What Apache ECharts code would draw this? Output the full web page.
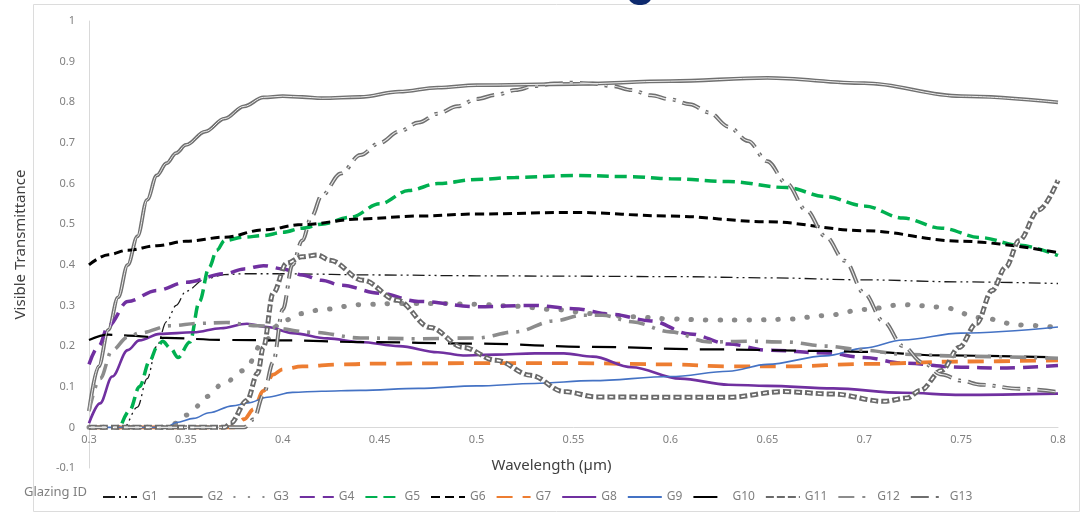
<!DOCTYPE html>
<html><head><meta charset="utf-8">
<script src="https://cdn.jsdelivr.net/npm/echarts@6/dist/echarts.min.js"></script>
<style>html,body{margin:0;padding:0;background:#fff}#c{width:1087px;height:516px}</style>
</head><body><div id="c"></div>
<script>
// ---- axis ticks ----
const X_TICKS = [0.3,0.35,0.4,0.45,0.5,0.55,0.6,0.65,0.7,0.75,0.8];
const Y_TICKS = [-0.1,0,0.1,0.2,0.3,0.4,0.5,0.6,0.7,0.8,0.9,1];
const SERIES_NAMES = ['G1','G2','G3','G4','G5','G6','G7','G8','G9','G10','G11','G12','G13'];

// ---- series data (wavelength µm, visible transmittance) ----
const G1_x = [0.30,0.31,0.318,0.325,0.33,0.335,0.34,0.345,0.35,0.36,0.37,0.38,0.40,0.45,0.50,0.55,0.60,0.65,0.70,0.75,0.80];
const G1_y = [0,0,0,0.05,0.12,0.2,0.26,0.3,0.335,0.365,0.376,0.378,0.378,0.375,0.373,0.372,0.371,0.368,0.363,0.358,0.354];

const G2_x = [0.30,0.305,0.31,0.315,0.32,0.325,0.33,0.335,0.34,0.345,0.35,0.36,0.37,0.38,0.39,0.40,0.41,0.42,0.44,0.46,0.48,0.50,0.55,0.60,0.65,0.70,0.75,0.80];
const G2_y = [0.04,0.15,0.24,0.32,0.40,0.47,0.56,0.62,0.65,0.675,0.695,0.728,0.76,0.79,0.812,0.815,0.813,0.81,0.813,0.826,0.836,0.842,0.845,0.852,0.86,0.847,0.815,0.80];

const G3_x = [0.30,0.34,0.345,0.35,0.355,0.36,0.37,0.38,0.39,0.40,0.41,0.42,0.44,0.46,0.48,0.50,0.52,0.54,0.56,0.58,0.60,0.62,0.64,0.66,0.68,0.70,0.72,0.74,0.76,0.78,0.80];
const G3_y = [0,0,0.01,0.03,0.05,0.075,0.11,0.14,0.21,0.262,0.28,0.29,0.302,0.305,0.305,0.303,0.298,0.29,0.28,0.272,0.267,0.264,0.264,0.266,0.275,0.29,0.302,0.296,0.27,0.252,0.246];

const G4_x = [0.30,0.305,0.31,0.32,0.335,0.35,0.37,0.38,0.39,0.40,0.41,0.42,0.43,0.45,0.47,0.50,0.53,0.55,0.57,0.59,0.61,0.63,0.65,0.68,0.70,0.72,0.75,0.77,0.80];
const G4_y = [0.155,0.2,0.25,0.31,0.337,0.357,0.378,0.39,0.398,0.39,0.375,0.362,0.35,0.33,0.31,0.297,0.3,0.292,0.278,0.262,0.23,0.205,0.19,0.183,0.172,0.158,0.148,0.146,0.152];

const G5_x = [0.317,0.321,0.326,0.3315,0.335,0.338,0.342,0.346,0.352,0.357,0.362,0.366,0.37,0.38,0.39,0.40,0.41,0.42,0.435,0.45,0.465,0.48,0.50,0.52,0.55,0.58,0.60,0.63,0.66,0.68,0.70,0.72,0.74,0.76,0.78,0.80];
const G5_y = [0.01,0.042,0.10,0.165,0.197,0.212,0.195,0.172,0.21,0.31,0.394,0.436,0.46,0.468,0.472,0.48,0.49,0.50,0.517,0.55,0.583,0.60,0.61,0.615,0.62,0.617,0.612,0.605,0.59,0.568,0.545,0.515,0.49,0.467,0.448,0.423];

const G6_x = [0.30,0.31,0.32,0.335,0.35,0.37,0.39,0.41,0.44,0.47,0.50,0.55,0.60,0.65,0.70,0.75,0.80];
const G6_y = [0.40,0.425,0.436,0.447,0.458,0.468,0.486,0.499,0.513,0.52,0.525,0.529,0.52,0.506,0.484,0.458,0.43];

const G7_x = [0.30,0.375,0.38,0.385,0.39,0.395,0.40,0.41,0.43,0.45,0.50,0.55,0.60,0.63,0.66,0.70,0.75,0.80];
const G7_y = [0,0,0.02,0.045,0.09,0.13,0.143,0.15,0.155,0.157,0.158,0.158,0.155,0.15,0.15,0.156,0.162,0.165];

const G8_x = [0.30,0.3057,0.312,0.32,0.326,0.3366,0.354,0.368,0.3815,0.392,0.405,0.423,0.44,0.46,0.48,0.493,0.51,0.53,0.545,0.56,0.58,0.605,0.63,0.65,0.684,0.72,0.75,0.80];
const G8_y = [0.01,0.059,0.125,0.19,0.214,0.23,0.234,0.244,0.255,0.247,0.232,0.219,0.21,0.2,0.185,0.177,0.179,0.182,0.182,0.174,0.148,0.12,0.105,0.102,0.096,0.085,0.08,0.083];

const G9_x = [0.30,0.34,0.345,0.354,0.362,0.374,0.382,0.392,0.405,0.42,0.44,0.47,0.50,0.53,0.56,0.60,0.63,0.65,0.68,0.70,0.72,0.75,0.80];
const G9_y = [0,0,0.012,0.022,0.036,0.053,0.06,0.074,0.086,0.089,0.091,0.096,0.102,0.108,0.115,0.125,0.138,0.155,0.176,0.195,0.215,0.232,0.247];

const G10_x = [0.30,0.31,0.32,0.34,0.37,0.40,0.44,0.50,0.56,0.62,0.68,0.70,0.74,0.80];
const G10_y = [0.215,0.228,0.226,0.22,0.215,0.214,0.21,0.206,0.198,0.192,0.188,0.186,0.177,0.172];

const G11_x = [0.30,0.37,0.373,0.3815,0.387,0.39,0.395,0.402,0.41,0.418,0.4244,0.4414,0.459,0.476,0.493,0.51,0.528,0.545,0.562,0.60,0.63,0.658,0.684,0.71,0.722,0.729,0.74,0.749,0.758,0.766,0.773,0.78,0.79,0.80];
const G11_y = [0,0,0.01,0.066,0.133,0.197,0.33,0.404,0.42,0.424,0.411,0.362,0.313,0.246,0.197,0.165,0.128,0.088,0.075,0.074,0.074,0.088,0.082,0.064,0.072,0.091,0.14,0.197,0.256,0.337,0.394,0.46,0.535,0.608];

const G12_x = [0.30,0.3057,0.312,0.32,0.326,0.342,0.357,0.371,0.387,0.4156,0.44,0.47,0.50,0.52,0.54,0.555,0.565,0.58,0.60,0.62,0.64,0.66,0.68,0.70,0.72,0.75,0.80];
const G12_y = [0.04,0.12,0.19,0.222,0.232,0.25,0.256,0.258,0.25,0.234,0.22,0.218,0.22,0.235,0.262,0.276,0.276,0.26,0.235,0.21,0.212,0.21,0.2,0.19,0.18,0.175,0.17];

const G13_x = [0.30,0.38,0.385,0.39,0.395,0.40,0.405,0.41,0.415,0.42,0.43,0.44,0.45,0.46,0.47,0.48,0.49,0.50,0.51,0.52,0.53,0.54,0.55,0.56,0.57,0.58,0.59,0.60,0.61,0.62,0.63,0.64,0.65,0.66,0.67,0.68,0.69,0.70,0.71,0.72,0.73,0.74,0.75,0.76,0.78,0.80];
const G13_y = [0,0,0.02,0.08,0.16,0.29,0.40,0.46,0.52,0.57,0.625,0.67,0.70,0.728,0.75,0.772,0.79,0.808,0.818,0.83,0.84,0.846,0.848,0.846,0.84,0.83,0.817,0.807,0.795,0.775,0.74,0.705,0.655,0.60,0.535,0.47,0.41,0.33,0.26,0.2,0.16,0.13,0.115,0.105,0.095,0.087];

// ---- build ----
const pts = (xs, ys) => xs.map((v, i) => [v, ys[i]]);
const DATA = {
  G1: pts(G1_x, G1_y), G2: pts(G2_x, G2_y), G3: pts(G3_x, G3_y), G4: pts(G4_x, G4_y),
  G5: pts(G5_x, G5_y), G6: pts(G6_x, G6_y), G7: pts(G7_x, G7_y), G8: pts(G8_x, G8_y),
  G9: pts(G9_x, G9_y), G10: pts(G10_x, G10_y), G11: pts(G11_x, G11_y), G12: pts(G12_x, G12_y),
  G13: pts(G13_x, G13_y)
};
const STYLE = {
  G1: {color:'#1a1a1a', width:1.3, type:[12,4,2,4,2,4]},
  G2: {color:'#707070', width:3.8, type:'solid'},
  G3: {color:'#8a8a8a', width:5, type:[0.5,14], cap:'round'},
  G4: {color:'#7030a0', width:3.5, type:[15,8]},
  G5: {color:'#00b050', width:3.5, type:[12,6]},
  G6: {color:'#000000', width:3, type:[9,5]},
  G7: {color:'#ed7d31', width:3.8, type:[16,10]},
  G8: {color:'#7030a0', width:2.6, type:'solid'},
  G9: {color:'#4472c4', width:1.6, type:'solid'},
  G10:{color:'#000000', width:2.2, type:[24,12]},
  G11:{color:'#6a6a6a', width:5, type:[8,3]},
  G12:{color:'#8c8c8c', width:3.6, type:[16,8,3,8]},
  G13:{color:'#6e6e6e', width:4, type:[18,7,3,7]}
};
const INNER = {
  G2: {color:'#eeeeee', width:1, type:'solid'},
  G11:{color:'#ffffff', width:1.6, type:[4,7], dashOffset:-2},
  G13:{color:'#e6e6e6', width:1.1, type:[18,7,3,7]}
};
const series = [];
SERIES_NAMES.forEach(n => {
  series.push({
    name: n, type: 'line', data: DATA[n], showSymbol: false, symbol: 'none',
    smooth: 0.35, smoothMonotone: 'x', lineStyle: STYLE[n], itemStyle: {color: STYLE[n].color},
    emphasis: {disabled: true}, z: 2
  });
  if (INNER[n]) {
    series.push({
      name: n + '_in', type: 'line', data: DATA[n], showSymbol: false, symbol: 'none',
      smooth: 0.35, smoothMonotone: 'x', lineStyle: INNER[n], silent: true,
      emphasis: {disabled: true}, z: 3
    });
  }
});

const FONT = 'Noto Sans';
const chart = echarts.init(document.getElementById('c'), null, {renderer: 'canvas'});
chart.setOption({
  animation: false,
  backgroundColor: '#ffffff',
  grid: {left: 89, right: 29, top: 21, bottom: 48, containLabel: false},
  xAxis: {
    type: 'value', min: X_TICKS[0], max: X_TICKS[X_TICKS.length - 1], interval: 0.05,
    offset: -41,
    axisLine: {onZero: false, lineStyle: {color: '#d9d9d9', width: 1}},
    axisTick: {show: false}, splitLine: {show: false},
    axisLabel: {color: '#808080', fontFamily: FONT, fontSize: 11, margin: 7,
      formatter: v => String(+v.toFixed(2))},
    name: 'Wavelength (µm)', nameLocation: 'middle', nameGap: 31,
    nameTextStyle: {color: '#404040', fontFamily: FONT, fontSize: 15, padding: [0, 44, 0, 0]}
  },
  yAxis: {
    type: 'value', min: Y_TICKS[0], max: Y_TICKS[Y_TICKS.length - 1], interval: 0.1,
    axisLine: {show: true, lineStyle: {color: '#d9d9d9', width: 1}},
    axisTick: {show: false}, splitLine: {show: false},
    axisLabel: {color: '#808080', fontFamily: FONT, fontSize: 11, margin: 14,
      formatter: v => String(+v.toFixed(1))},
    name: 'Visible Transmittance', nameLocation: 'middle', nameGap: 61, nameRotate: 90,
    nameTextStyle: {color: '#404040', fontFamily: FONT, fontSize: 15}
  },
  legend: {
    data: SERIES_NAMES, left: 97, top: 486, itemWidth: 34, itemHeight: 10, itemGap: 10,
    itemStyle: {opacity: 0, borderWidth: 0},
    textStyle: {color: '#7f7f7f', fontFamily: FONT, fontSize: 12, width: 22},
    selectedMode: false
  },
  graphic: [
    {type: 'rect', shape: {x: 33.5, y: 4.5, width: 1046, height: 507}, style: {fill: 'none', stroke: '#dcdcdc', lineWidth: 1}, z: -1},
    {type: 'rect', shape: {x: 628, y: -8, width: 24, height: 13, r: [0,0,10,10]}, style: {fill: '#0e2a6e'}, z: 10},
    {type: 'text', left: 24, top: 486, style: {text: 'Glazing ID', fill: '#7f7f7f', font: '13px "Noto Sans"'}}
  ],
  series: series
});
</script>
</body></html>
